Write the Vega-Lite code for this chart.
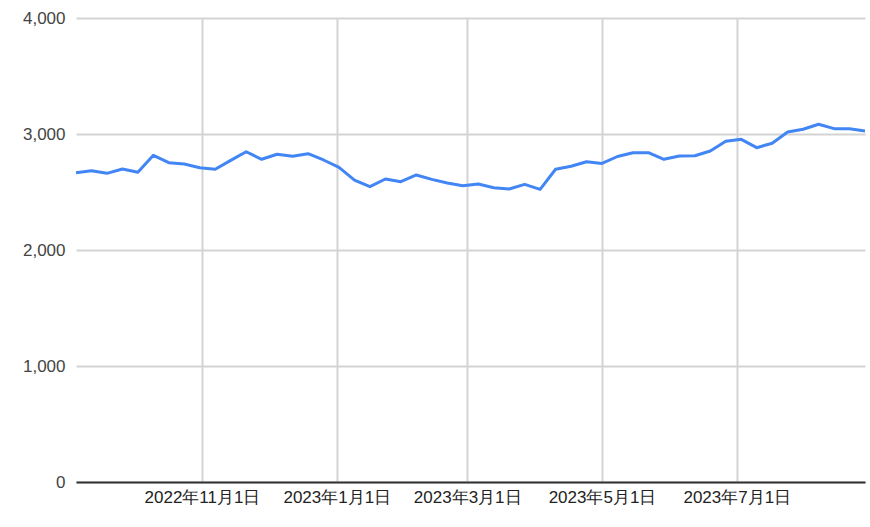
{
  "$schema": "https://vega.github.io/schema/vega-lite/v6.json",
  "autosize": "none",
  "width": 789,
  "height": 464,
  "padding": {"left": 76, "top": 18, "right": 5, "bottom": 45},
  "background": "white",
  "config": {"view": {"stroke": null}, "font": "Liberation Sans"},
  "data": {"values": [
    {"date": "2022-09-05", "v": 2666},
    {"date": "2022-09-12", "v": 2684},
    {"date": "2022-09-19", "v": 2661},
    {"date": "2022-09-26", "v": 2698},
    {"date": "2022-10-03", "v": 2670},
    {"date": "2022-10-10", "v": 2816},
    {"date": "2022-10-17", "v": 2753},
    {"date": "2022-10-24", "v": 2741},
    {"date": "2022-10-31", "v": 2709},
    {"date": "2022-11-07", "v": 2696},
    {"date": "2022-11-14", "v": 2773},
    {"date": "2022-11-21", "v": 2847},
    {"date": "2022-11-28", "v": 2782},
    {"date": "2022-12-05", "v": 2825},
    {"date": "2022-12-12", "v": 2808},
    {"date": "2022-12-19", "v": 2830},
    {"date": "2022-12-26", "v": 2776},
    {"date": "2023-01-02", "v": 2712},
    {"date": "2023-01-09", "v": 2603},
    {"date": "2023-01-16", "v": 2546},
    {"date": "2023-01-23", "v": 2612},
    {"date": "2023-01-30", "v": 2589},
    {"date": "2023-02-06", "v": 2647},
    {"date": "2023-02-13", "v": 2609},
    {"date": "2023-02-20", "v": 2578},
    {"date": "2023-02-27", "v": 2554},
    {"date": "2023-03-06", "v": 2569},
    {"date": "2023-03-13", "v": 2537},
    {"date": "2023-03-20", "v": 2526},
    {"date": "2023-03-27", "v": 2566},
    {"date": "2023-04-03", "v": 2523},
    {"date": "2023-04-10", "v": 2696},
    {"date": "2023-04-17", "v": 2722},
    {"date": "2023-04-24", "v": 2761},
    {"date": "2023-05-01", "v": 2746},
    {"date": "2023-05-08", "v": 2806},
    {"date": "2023-05-15", "v": 2839},
    {"date": "2023-05-22", "v": 2839},
    {"date": "2023-05-29", "v": 2782},
    {"date": "2023-06-05", "v": 2810},
    {"date": "2023-06-12", "v": 2813},
    {"date": "2023-06-19", "v": 2853},
    {"date": "2023-06-26", "v": 2937},
    {"date": "2023-07-03", "v": 2954},
    {"date": "2023-07-10", "v": 2882},
    {"date": "2023-07-17", "v": 2920},
    {"date": "2023-07-24", "v": 3017},
    {"date": "2023-07-31", "v": 3041},
    {"date": "2023-08-07", "v": 3084},
    {"date": "2023-08-14", "v": 3046},
    {"date": "2023-08-21", "v": 3046},
    {"date": "2023-08-28", "v": 3026}
  ]},
  "mark": {"type": "line", "color": "#4285F4", "strokeWidth": 3, "strokeJoin": "round"},
  "encoding": {
    "x": {
      "field": "date",
      "type": "temporal",
      "title": null,
      "scale": {
        "type": "utc",
        "domain": [
          {"year": 2022, "month": 9, "date": 5, "utc": true},
          {"year": 2023, "month": 8, "date": 28, "utc": true}
        ]
      },
      "axis": {
        "values": [
          {"year": 2022, "month": 11, "date": 1, "utc": true},
          {"year": 2023, "month": 1, "date": 1, "utc": true},
          {"year": 2023, "month": 3, "date": 1, "utc": true},
          {"year": 2023, "month": 5, "date": 1, "utc": true},
          {"year": 2023, "month": 7, "date": 1, "utc": true}
        ],
        "format": "%Y年%-m月%-d日",
        "labelFontSize": 17,
        "labelColor": "#222222",
        "labelPadding": 7,
        "labelFont": "Liberation Sans",
        "ticks": false,
        "grid": true,
        "gridColor": "#d4d4d4",
        "gridWidth": 2,
        "domainColor": "#333333",
        "domainWidth": 2,
        "zindex": 0
      }
    },
    "y": {
      "field": "v",
      "type": "quantitative",
      "title": null,
      "scale": {"domain": [0, 4000], "nice": false, "zero": true},
      "axis": {
        "values": [0, 1000, 2000, 3000, 4000],
        "format": ",.0f",
        "labelFontSize": 17,
        "labelColor": "#444444",
        "labelPadding": 11,
        "labelFont": "Liberation Sans",
        "ticks": false,
        "domain": false,
        "grid": true,
        "gridColor": "#d4d4d4",
        "gridWidth": 2,
        "zindex": 0
      }
    }
  }
}
